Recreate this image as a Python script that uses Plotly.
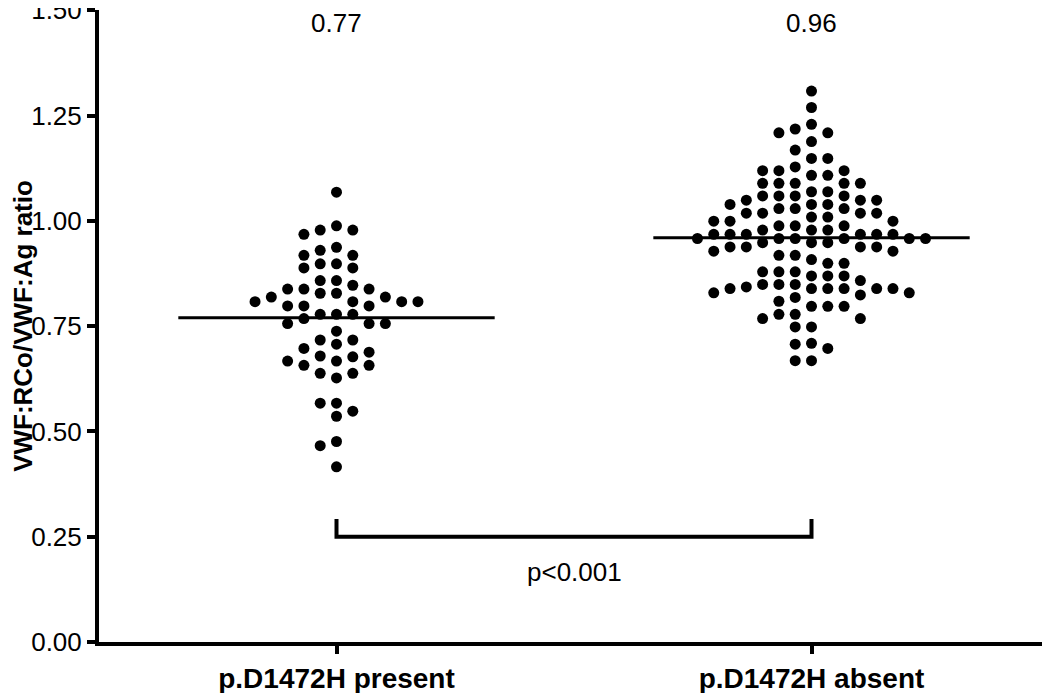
import plotly.graph_objects as go

# values (VWF:RCo / VWF:Ag ratio)
groups = ["p.D1472H present", "p.D1472H absent"]
medians = [0.77, 0.96]
p_text = "p<0.001"
y_title = "VWF:RCo/VWF:Ag ratio"
y_ticks = [0, 0.25, 0.5, 0.75, 1.0, 1.25, 1.5]

present = [
    1.068, 0.988, 0.978, 0.978, 0.968, 0.937, 0.930, 0.918, 0.918, 0.898,
    0.898, 0.888, 0.888, 0.858, 0.858, 0.847, 0.838, 0.838, 0.838, 0.828,
    0.828, 0.819, 0.819, 0.808, 0.808, 0.808, 0.808, 0.798, 0.798, 0.798,
    0.778, 0.778, 0.778, 0.768, 0.756, 0.756, 0.756, 0.738, 0.717, 0.717,
    0.707, 0.697, 0.688, 0.679, 0.677, 0.667, 0.667, 0.657, 0.657, 0.638,
    0.638, 0.627, 0.567, 0.567, 0.548, 0.536, 0.476, 0.466, 0.416,
]

absent = [
    1.308, 1.269, 1.229, 1.218, 1.209, 1.209, 1.188, 1.168, 1.148, 1.148,
    1.128, 1.119, 1.119, 1.119, 1.108, 1.108, 1.089, 1.089, 1.089, 1.089,
    1.089, 1.069, 1.069, 1.059, 1.059, 1.059, 1.059, 1.049, 1.049, 1.049,
    1.039, 1.039, 1.039, 1.029, 1.029, 1.029, 1.018, 1.018, 1.018, 1.018,
    1.009, 1.009, 0.999, 0.999, 0.999, 0.988, 0.988, 0.988, 0.978, 0.978,
    0.978, 0.968, 0.968, 0.968, 0.968, 0.968, 0.968, 0.958, 0.958, 0.958,
    0.958, 0.958, 0.958, 0.948, 0.948, 0.948, 0.938, 0.938, 0.938, 0.938,
    0.928, 0.928, 0.918, 0.918, 0.908, 0.899, 0.899, 0.879, 0.879, 0.879,
    0.869, 0.869, 0.869, 0.858, 0.849, 0.849, 0.849, 0.843, 0.839, 0.839,
    0.839, 0.839, 0.839, 0.839, 0.829, 0.829, 0.824, 0.818, 0.809, 0.797,
    0.797, 0.797, 0.778, 0.778, 0.768, 0.768, 0.748, 0.748, 0.709, 0.707,
    0.697, 0.668, 0.668,
]

FONT = "Arial, Liberation Sans, sans-serif"
SLOT = 0.0343      # horizontal spacing between dot columns (x units)
MIN_GAP = 0.03     # vertical room a dot needs in its column (y units)


def swarm(values, center):
    # simple column beeswarm: each dot takes the column nearest the centre
    # where it does not sit on top of a dot already placed
    taken = {}
    xs = [0.0] * len(values)
    order = sorted(range(len(values)), key=lambda i: -values[i])
    for i in order:
        v = values[i]
        k = 0
        placed = False
        while not placed:
            cands = [0] if k == 0 else [-k, k]
            for s in cands:
                if all(abs(v - y) >= MIN_GAP for y in taken.get(s, [])):
                    taken.setdefault(s, []).append(v)
                    xs[i] = center + s * SLOT
                    placed = True
                    break
            k += 1
    return xs


fig = go.Figure()
for i, vals in enumerate([present, absent]):
    fig.add_trace(go.Scatter(
        x=swarm(vals, i),
        y=vals,
        mode="markers",
        marker=dict(color="black", size=11, line=dict(width=0)),
        showlegend=False,
        hoverinfo="y",
    ))

shapes = []
for i, m in enumerate(medians):
    shapes.append(dict(type="line", xref="x", yref="y", x0=i - 0.333, x1=i + 0.333,
                       y0=m, y1=m, line=dict(color="black", width=3)))

# significance bracket
shapes.append(dict(type="path", xref="x", yref="y",
                   path="M 0,0.292 L 0,0.25 L 1,0.25 L 1,0.292",
                   line=dict(color="black", width=4)))

annotations = [
    dict(x=i, y=1.5, xref="x", yref="y", yanchor="top", yshift=4,
         text=f"{m:.2f}", showarrow=False,
         font=dict(family=FONT, size=26, color="black"))
    for i, m in enumerate(medians)
]
annotations.append(dict(x=0.5, y=0.166, xref="x", yref="y", text=p_text, showarrow=False,
                        font=dict(family=FONT, size=26, color="black")))

# the page body adds an 8px offset, so margins are trimmed to compensate
fig.update_layout(
    width=1050,
    height=693,
    margin=dict(l=91, r=9, t=2, b=59),
    plot_bgcolor="white",
    paper_bgcolor="white",
    font=dict(family=FONT, color="black"),
    shapes=shapes,
    annotations=annotations,
    xaxis=dict(
        range=[-0.5, 1.5],
        tickvals=[0, 1],
        ticktext=groups,
        tickfont=dict(family=FONT, size=28, weight="bold"),
        showline=True, linecolor="black", linewidth=4,
        ticks="outside", ticklen=8, tickwidth=4, tickcolor="black",
        showgrid=False, zeroline=False, automargin=False,
        ticklabeloverflow="allow",
    ),
    yaxis=dict(
        range=[0, 1.5005],
        tickvals=y_ticks, tickformat=".2f",
        tickfont=dict(family=FONT, size=26),
        showline=True, linecolor="black", linewidth=4,
        ticks="outside", ticklen=8, tickwidth=4, tickcolor="black",
        showgrid=False, zeroline=False, automargin=False,
        ticklabeloverflow="allow",
        title=dict(text=y_title,
                   font=dict(family=FONT, size=26, weight="bold"), standoff=14),
    ),
)

fig.write_html("out.html")
